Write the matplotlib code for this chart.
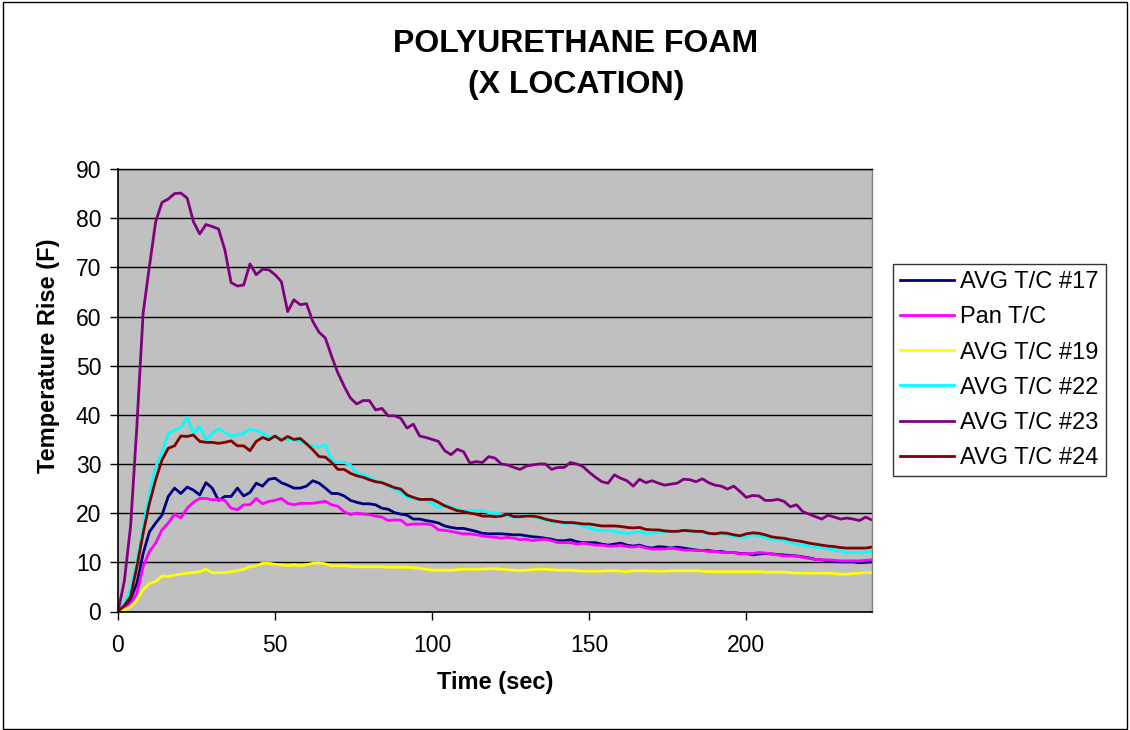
import matplotlib
matplotlib.use("Agg")
import matplotlib.pyplot as plt
import matplotlib.patches as mpatches
import numpy as np

plt.rcParams['font.family'] = ['Liberation Sans', 'DejaVu Sans']

# ---- data (time in seconds, 2 s sampling) ----
time = np.arange(0, 241, 2)

tc17 = [0, 0.8, 2.5, 5.7, 11.8, 16.2, 18.0, 19.6, 23.4, 25.1,
        24.0, 25.3, 24.7, 23.7, 26.2, 25.1, 22.6, 23.4, 23.4, 25.1,
        23.5, 24.2, 26.1, 25.5, 26.9, 27.1, 26.2, 25.7, 25.1, 25.1,
        25.5, 26.6, 26.1, 25.1, 24.0, 24.0, 23.5, 22.6, 22.2, 21.9,
        21.9, 21.7, 21.0, 20.8, 20.1, 19.8, 19.6, 18.8, 18.8, 18.5,
        18.3, 18.0, 17.4, 17.1, 16.9, 16.9, 16.6, 16.3, 15.9, 15.8,
        15.8, 15.8, 15.7, 15.6, 15.6, 15.4, 15.2, 15.1, 14.9, 14.7,
        14.4, 14.4, 14.6, 14.2, 14.0, 14.0, 14.0, 13.7, 13.5, 13.7,
        13.9, 13.5, 13.3, 13.5, 13.1, 12.9, 13.2, 13.1, 12.9, 13.1,
        12.9, 12.7, 12.5, 12.4, 12.4, 12.2, 12.2, 12.0, 12.0, 11.8,
        11.8, 11.5, 11.7, 11.8, 11.7, 11.6, 11.5, 11.4, 11.3, 11.1,
        10.9, 10.6, 10.5, 10.3, 10.2, 10.1, 10.1, 10.1, 9.9, 10.0,
        10.1]

pan = [0, 0.5, 1.5, 3.7, 9.1, 12.2, 13.9, 16.6, 18.0, 19.8,
       19.0, 21.0, 22.2, 23.0, 23.0, 22.7, 22.8, 22.6, 21.0, 20.7,
       21.7, 21.7, 23.0, 21.9, 22.4, 22.6, 23.0, 22.0, 21.7, 22.0,
       22.0, 22.0, 22.2, 22.4, 21.7, 21.4, 20.3, 19.7, 20.0, 19.8,
       19.7, 19.4, 19.2, 18.5, 18.6, 18.6, 17.6, 17.8, 17.8, 17.8,
       17.6, 16.6, 16.5, 16.3, 16.0, 15.8, 15.8, 15.6, 15.4, 15.2,
       15.1, 14.9, 15.1, 14.9, 14.6, 14.7, 14.4, 14.6, 14.7, 14.4,
       14.0, 14.0, 14.0, 13.7, 13.9, 13.7, 13.5, 13.5, 13.3, 13.3,
       13.5, 13.2, 13.1, 13.3, 12.9, 12.7, 12.7, 12.7, 12.9, 12.7,
       12.5, 12.5, 12.4, 12.4, 12.2, 12.2, 12.0, 12.0, 12.0, 11.7,
       11.8, 11.8, 12.0, 11.9, 11.7, 11.5, 11.3, 11.3, 11.3, 11.0,
       10.8, 10.6, 10.5, 10.5, 10.4, 10.3, 10.3, 10.3, 10.3, 10.4,
       10.5]

tc19 = [0, 0.3, 1.0, 2.3, 4.4, 5.7, 6.1, 7.2, 7.1, 7.4,
        7.6, 7.8, 7.9, 8.1, 8.6, 7.9, 7.9, 7.9, 8.1, 8.3,
        8.6, 9.1, 9.3, 9.8, 9.8, 9.6, 9.5, 9.3, 9.5, 9.3,
        9.5, 9.8, 9.9, 9.7, 9.3, 9.3, 9.3, 9.2, 9.1, 9.1,
        9.1, 9.1, 9.1, 9.0, 9.0, 9.0, 9.0, 8.9, 8.8, 8.6,
        8.4, 8.4, 8.4, 8.4, 8.5, 8.6, 8.6, 8.6, 8.6, 8.7,
        8.7, 8.6, 8.5, 8.4, 8.3, 8.4, 8.5, 8.6, 8.6, 8.5,
        8.4, 8.4, 8.4, 8.3, 8.2, 8.2, 8.2, 8.2, 8.3, 8.3,
        8.2, 8.1, 8.3, 8.3, 8.3, 8.2, 8.2, 8.2, 8.3, 8.3,
        8.3, 8.3, 8.3, 8.2, 8.1, 8.1, 8.1, 8.1, 8.1, 8.1,
        8.1, 8.1, 8.1, 8.0, 8.0, 8.0, 8.0, 7.9, 7.8, 7.8,
        7.8, 7.8, 7.8, 7.8, 7.7, 7.6, 7.6, 7.7, 7.8, 7.9,
        7.9]

tc22 = [0, 1.5, 4.5, 10.0, 17.3, 24.0, 29.5, 32.2, 36.2, 36.9,
        37.4, 39.5, 36.2, 37.6, 34.9, 36.2, 37.2, 36.4, 35.7, 35.9,
        36.2, 37.1, 36.8, 36.2, 35.6, 35.4, 35.2, 35.0, 34.9, 34.6,
        34.1, 33.7, 33.4, 33.9, 30.8, 30.3, 30.3, 29.8, 28.1, 27.8,
        27.3, 26.6, 26.2, 25.5, 24.9, 24.2, 23.2, 23.0, 22.7, 22.6,
        22.0, 21.1, 21.7, 21.2, 20.8, 20.5, 20.5, 20.5, 20.5, 20.1,
        20.0, 19.8, 19.4, 19.2, 19.2, 19.6, 19.3, 19.0, 18.6, 18.3,
        18.1, 17.8, 18.1, 17.8, 17.3, 17.1, 16.6, 16.5, 16.5, 16.3,
        16.0, 15.9, 16.0, 16.3, 15.8, 16.0, 16.0, 16.3, 16.3, 16.3,
        16.5, 16.3, 16.2, 16.0, 15.8, 15.6, 15.8, 15.6, 15.2, 15.1,
        15.1, 15.6, 15.4, 15.0, 14.7, 14.6, 14.4, 14.0, 13.7, 13.5,
        13.3, 13.1, 12.9, 12.7, 12.5, 12.3, 12.0, 12.0, 12.0, 12.1,
        12.2]

tc23 = [0, 6.1, 17.3, 37.6, 60.7, 70.2, 79.3, 83.2, 83.9, 85.0,
        85.1, 84.1, 79.3, 76.8, 78.7, 78.3, 77.8, 73.6, 66.9, 66.2,
        66.4, 70.7, 68.5, 69.6, 69.5, 68.5, 67.1, 61.0, 63.4, 62.4,
        62.6, 59.0, 56.8, 55.6, 51.9, 48.5, 45.8, 43.4, 42.2, 42.9,
        42.9, 41.0, 41.3, 39.8, 39.8, 39.3, 37.3, 38.1, 35.7, 35.4,
        35.0, 34.6, 32.7, 31.9, 33.0, 32.5, 30.2, 30.5, 30.3, 31.5,
        31.2, 30.0, 29.8, 29.3, 28.9, 29.6, 29.8, 30.0, 30.0, 28.9,
        29.3, 29.3, 30.3, 30.0, 29.5, 28.3, 27.3, 26.4, 26.1, 27.8,
        27.1, 26.6, 25.5, 26.9, 26.2, 26.6, 26.1, 25.7, 25.9, 26.1,
        26.9, 26.8, 26.4, 27.0, 26.2, 25.7, 25.5, 24.9, 25.5, 24.4,
        23.2, 23.6, 23.5, 22.6, 22.6, 22.8, 22.4, 21.3, 21.7, 20.3,
        19.8, 19.3, 18.8, 19.6, 19.2, 18.8, 19.0, 18.8, 18.5, 19.2,
        18.6]

tc24 = [0, 1.2, 3.0, 9.1, 15.9, 22.0, 26.8, 30.8, 33.2, 33.7,
        35.7, 35.6, 35.9, 34.6, 34.4, 34.4, 34.2, 34.4, 34.7, 33.7,
        33.7, 32.7, 34.6, 35.4, 34.9, 35.7, 34.8, 35.6, 35.0, 35.2,
        34.1, 32.9, 31.5, 31.4, 30.3, 28.9, 28.9, 28.1, 27.6, 27.3,
        26.8, 26.4, 26.2, 25.7, 25.2, 24.9, 23.7, 23.2, 22.8, 22.8,
        22.8, 22.2, 21.5, 21.0, 20.5, 20.3, 20.0, 19.8, 19.4, 19.4,
        19.3, 19.4, 19.8, 19.3, 19.3, 19.4, 19.4, 19.2, 18.8, 18.5,
        18.3, 18.1, 18.1, 18.0, 17.8, 17.8, 17.6, 17.4, 17.4, 17.4,
        17.3, 17.1, 17.0, 17.1, 16.7, 16.6, 16.6, 16.4, 16.3, 16.3,
        16.5, 16.4, 16.3, 16.3, 15.9, 15.8, 16.0, 15.9, 15.6, 15.4,
        15.8, 16.0, 15.9, 15.6, 15.2, 15.0, 14.9, 14.6, 14.4, 14.2,
        13.9, 13.7, 13.5, 13.3, 13.2, 13.0, 12.9, 12.9, 12.9, 12.9,
        13.1]

series_labels = ["AVG T/C #17", "Pan T/C", "AVG T/C #19",
                 "AVG T/C #22", "AVG T/C #23", "AVG T/C #24"]
series_values = [tc17, pan, tc19, tc22, tc23, tc24]
series_colors = ["#000080", "#FF00FF", "#FFFF00", "#00FFFF", "#800080", "#800000"]

x_ticks = [0, 50, 100, 150, 200]
y_ticks = [0, 10, 20, 30, 40, 50, 60, 70, 80, 90]

# ---- figure ----
W, H = 1130, 730
fig = plt.figure(figsize=(W / 100, H / 100), dpi=100)
ax = fig.add_axes([118 / W, 1 - 611.5 / H, (872 - 118) / W, (611.5 - 169) / H])
ax.set_facecolor("#C0C0C0")

for vals, lab, col in zip(series_values, series_labels, series_colors):
    ax.plot(time, vals, color=col, lw=2.0, label=lab, solid_joinstyle='round')

ax.set_xlim(0, 240)
ax.set_ylim(0, 90)
ax.set_xticks(x_ticks)
ax.set_yticks(y_ticks)
ax.yaxis.grid(True, color="black", lw=1.0)
ax.set_axisbelow(True)
ax.tick_params(axis='both', direction='out', length=6, width=1, labelsize=16.5, color='black')
ax.tick_params(axis='y', pad=6)
ax.tick_params(axis='x', pad=10)
for s in ['left', 'bottom']:
    ax.spines[s].set_color('black')
    ax.spines[s].set_linewidth(1.2)
ax.spines['top'].set_color('black')
ax.spines['top'].set_linewidth(1.0)
ax.spines['right'].set_color('#808080')
ax.spines['right'].set_linewidth(1.0)

ax.set_xlabel("Time (sec)", fontsize=17, fontweight='bold', labelpad=10)
fig.text(49 / W, 1 - 356 / H, "Temperature Rise (F)", fontsize=17, fontweight='bold',
         rotation=90, ha='center', va='center')

fig.text(576 / W, 1 - 64.5 / H, "POLYURETHANE FOAM\n(X LOCATION)", fontsize=23,
         fontweight='bold', ha='center', va='center', linespacing=1.5)

leg = fig.legend(loc='upper left', bbox_to_anchor=(893 / W, 1 - 264 / H),
                 bbox_transform=fig.transFigure, fontsize=17, frameon=True,
                 fancybox=False, edgecolor='black', facecolor='white',
                 borderaxespad=0, borderpad=0.3, labelspacing=0.56,
                 handlelength=2.3, handletextpad=0.25)
leg.get_frame().set_linewidth(1.0)
for line in leg.get_lines():
    line.set_linewidth(2.0)

# chart border
fig.patches.append(mpatches.Rectangle((3 / W, 1 / H), (W - 6) / W, (H - 3) / H,
                                      transform=fig.transFigure, fill=False,
                                      edgecolor='black', lw=1.0))

fig.savefig("out.png", dpi=100)
